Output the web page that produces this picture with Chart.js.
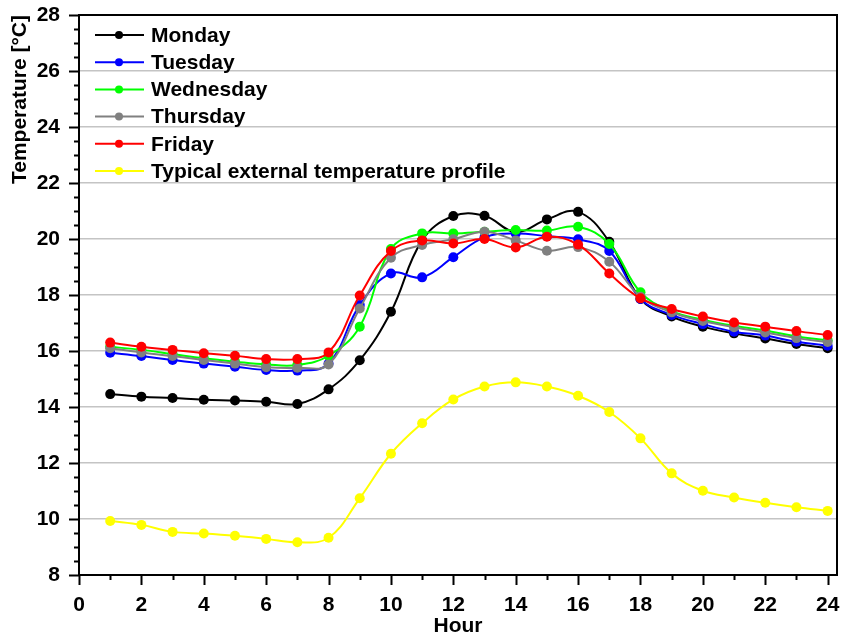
<!DOCTYPE html>
<html>
<head>
<meta charset="utf-8">
<title>Hourly temperature</title>
<script src="https://cdn.jsdelivr.net/npm/chart.js@4/dist/chart.umd.min.js"></script>
<style>
  html, body { margin: 0; padding: 0; background: #fff; }
  #tempChart { display: block; }
</style>
</head>
<body>
<canvas id="tempChart" width="842" height="640"></canvas>
<script>
var hours = [1, 2, 3, 4, 5, 6, 7, 8, 9, 10, 11, 12, 13, 14, 15, 16, 17, 18, 19, 20, 21, 22, 23, 24];
var xTicks = [0, 1, 2, 3, 4, 5, 6, 7, 8, 9, 10, 11, 12, 13, 14, 15, 16, 17, 18, 19, 20, 21, 22, 23, 24];
var yTicks = [8, 8.5, 9, 9.5, 10, 10.5, 11, 11.5, 12, 12.5, 13, 13.5, 14, 14.5, 15, 15.5, 16, 16.5, 17, 17.5, 18,
  18.5, 19, 19.5, 20, 20.5, 21, 21.5, 22, 22.5, 23, 23.5, 24, 24.5, 25, 25.5, 26, 26.5, 27, 27.5, 28];

var seriesNames = ['Monday', 'Tuesday', 'Wednesday', 'Thursday', 'Friday', 'Typical external temperature profile'];
var seriesColors = ['#000000', '#0000ff', '#00ff00', '#808080', '#ff0000', '#ffff00'];

var monday = [14.46, 14.37, 14.32, 14.26, 14.23, 14.19, 14.11, 14.63, 15.67, 17.40, 19.95, 20.82,
  20.83, 20.25, 20.70, 20.97, 19.90, 17.86, 17.23, 16.87, 16.63, 16.45, 16.25, 16.10];
var tuesday = [15.94, 15.82, 15.68, 15.55, 15.44, 15.32, 15.30, 15.55, 17.64, 18.77, 18.63, 19.35,
  20.06, 20.20, 20.10, 19.99, 19.57, 17.86, 17.29, 16.96, 16.69, 16.55, 16.33, 16.19];
var wednesday = [16.15, 16.04, 15.89, 15.74, 15.62, 15.52, 15.50, 15.83, 16.87, 19.64, 20.20, 20.20,
  20.26, 20.32, 20.30, 20.44, 19.82, 18.10, 17.42, 17.12, 16.90, 16.73, 16.52, 16.38];
var thursday = [16.10, 15.95, 15.82, 15.68, 15.55, 15.42, 15.40, 15.52, 17.52, 19.33, 19.79, 19.99,
  20.26, 19.95, 19.58, 19.71, 19.19, 17.94, 17.38, 17.07, 16.85, 16.66, 16.46, 16.32];
var friday = [16.30, 16.15, 16.04, 15.92, 15.83, 15.71, 15.71, 15.95, 17.98, 19.57, 19.95, 19.84,
  20.00, 19.70, 20.08, 19.80, 18.77, 17.88, 17.50, 17.23, 17.02, 16.87, 16.71, 16.57];
var external = [9.93, 9.79, 9.54, 9.48, 9.40, 9.29, 9.17, 9.33, 10.74, 12.33, 13.42, 14.27,
  14.73, 14.88, 14.73, 14.40, 13.82, 12.88, 11.63, 11.01, 10.77, 10.58, 10.42, 10.29];

var FONT = "'Liberation Sans', Arial, sans-serif";

function toPoints(values) {
  return values.map(function (v, i) {
    return { x: hours[i], y: v };
  });
}

function makeDataset(idx, values, order) {
  return {
    label: seriesNames[idx],
    data: toPoints(values),
    borderColor: seriesColors[idx],
    backgroundColor: seriesColors[idx],
    pointBackgroundColor: seriesColors[idx],
    pointBorderColor: seriesColors[idx],
    pointRadius: 5,
    pointBorderWidth: 0,
    borderWidth: 2,
    tension: 0.4,
    fill: false,
    order: order
  };
}

// keep the plot box fixed: no extra room for overhanging tick labels
function noPadding(scale) {
  scale.paddingLeft = 0;
  scale.paddingRight = 0;
  scale.paddingTop = 0;
  scale.paddingBottom = 0;
}

// frame around the plot plus outward major/minor tick marks
var framePlugin = {
  id: 'frame',
  afterDatasetsDraw: function (chart) {
    var ctx = chart.ctx;
    var area = chart.chartArea;
    var xs = chart.scales.x;
    var ys = chart.scales.y;
    ctx.save();
    ctx.strokeStyle = '#000';
    ctx.lineWidth = 2;
    ctx.strokeRect(area.left, area.top, area.right - area.left, area.bottom - area.top);
    ctx.beginPath();
    xTicks.forEach(function (v) {
      var px = Math.round(xs.getPixelForValue(v)) + 0.5;
      var len = v % 2 === 0 ? 10 : 5;
      ctx.moveTo(px, area.bottom);
      ctx.lineTo(px, area.bottom + len);
    });
    yTicks.forEach(function (v) {
      var py = Math.round(ys.getPixelForValue(v)) + 0.5;
      var len = v % 2 === 0 ? 10 : 5;
      ctx.moveTo(area.left, py);
      ctx.lineTo(area.left - len, py);
    });
    ctx.stroke();
    ctx.restore();
  }
};

// legend drawn inside the plot, top-left, one entry per row
var insideLegend = {
  id: 'insideLegend',
  afterDraw: function (chart) {
    var ctx = chart.ctx;
    var x0 = 95, x1 = 144, textX = 151, rowY = 35, rowGap = 27.2;
    ctx.save();
    ctx.font = 'bold 21px ' + FONT;
    ctx.textBaseline = 'middle';
    ctx.textAlign = 'left';
    seriesNames.forEach(function (name, i) {
      var y = rowY + i * rowGap;
      ctx.strokeStyle = seriesColors[i];
      ctx.fillStyle = seriesColors[i];
      ctx.lineWidth = 2;
      ctx.beginPath();
      ctx.moveTo(x0, y);
      ctx.lineTo(x1, y);
      ctx.stroke();
      ctx.beginPath();
      ctx.arc(119, y, 4, 0, Math.PI * 2);
      ctx.fill();
      ctx.fillStyle = '#000';
      ctx.fillText(name, textX, y + 1);
    });
    ctx.restore();
  }
};

window.addEventListener('load', function () {
  var canvas = document.getElementById('tempChart').getContext('2d');
  var tempChart = new Chart(canvas, {
    type: 'line',
    data: {
      datasets: [
        makeDataset(0, monday, 6),
        makeDataset(1, tuesday, 5),
        makeDataset(2, wednesday, 4),
        makeDataset(3, thursday, 3),
        makeDataset(4, friday, 2),
        makeDataset(5, external, 1)
      ]
    },
    plugins: [framePlugin, insideLegend],
    options: {
      responsive: false,
      animation: false,
      layout: { padding: { top: 15, right: 4, left: 0, bottom: 0 } },
      plugins: {
        legend: { display: false },
        tooltip: { enabled: false }
      },
      scales: {
        x: {
          type: 'linear',
          min: 0,
          max: 24.3,
          afterBuildTicks: function (scale) {
            scale.ticks = xTicks.map(function (v) { return { value: v }; });
          },
          afterFit: function (scale) {
            scale.height = 65;
            noPadding(scale);
          },
          ticks: {
            autoSkip: false,
            maxRotation: 0,
            padding: 18,
            color: '#000',
            font: { family: FONT, size: 21, weight: 'bold' },
            callback: function (v) { return v % 2 === 0 ? String(v) : ''; }
          },
          grid: { drawOnChartArea: false, drawTicks: false },
          border: { display: false },
          title: {
            display: true,
            text: 'Hour',
            color: '#000',
            font: { family: FONT, size: 21, weight: 'bold' },
            padding: { top: 0, bottom: 1 }
          }
        },
        y: {
          min: 8,
          max: 28,
          afterBuildTicks: function (scale) {
            scale.ticks = yTicks.map(function (v) { return { value: v }; });
          },
          afterFit: function (scale) {
            scale.width = 79;
            noPadding(scale);
          },
          ticks: {
            autoSkip: false,
            padding: 19,
            color: '#000',
            font: { family: FONT, size: 21, weight: 'bold' },
            callback: function (v) { return v % 2 === 0 ? String(v) : ''; }
          },
          grid: {
            drawTicks: false,
            lineWidth: 1.5,
            color: function (c) {
              var v = c.tick ? c.tick.value : 0;
              return (v % 2 === 0 && v > 8 && v < 28) ? '#c4c4c4' : 'rgba(0,0,0,0)';
            }
          },
          border: { display: false },
          title: {
            display: true,
            text: 'Temperature [°C]',
            align: 'end',
            color: '#000',
            font: { family: FONT, size: 21, weight: 'bold' },
            padding: { top: 8, bottom: 0 }
          }
        }
      }
    }
  });
});
</script>
</body>
</html>
